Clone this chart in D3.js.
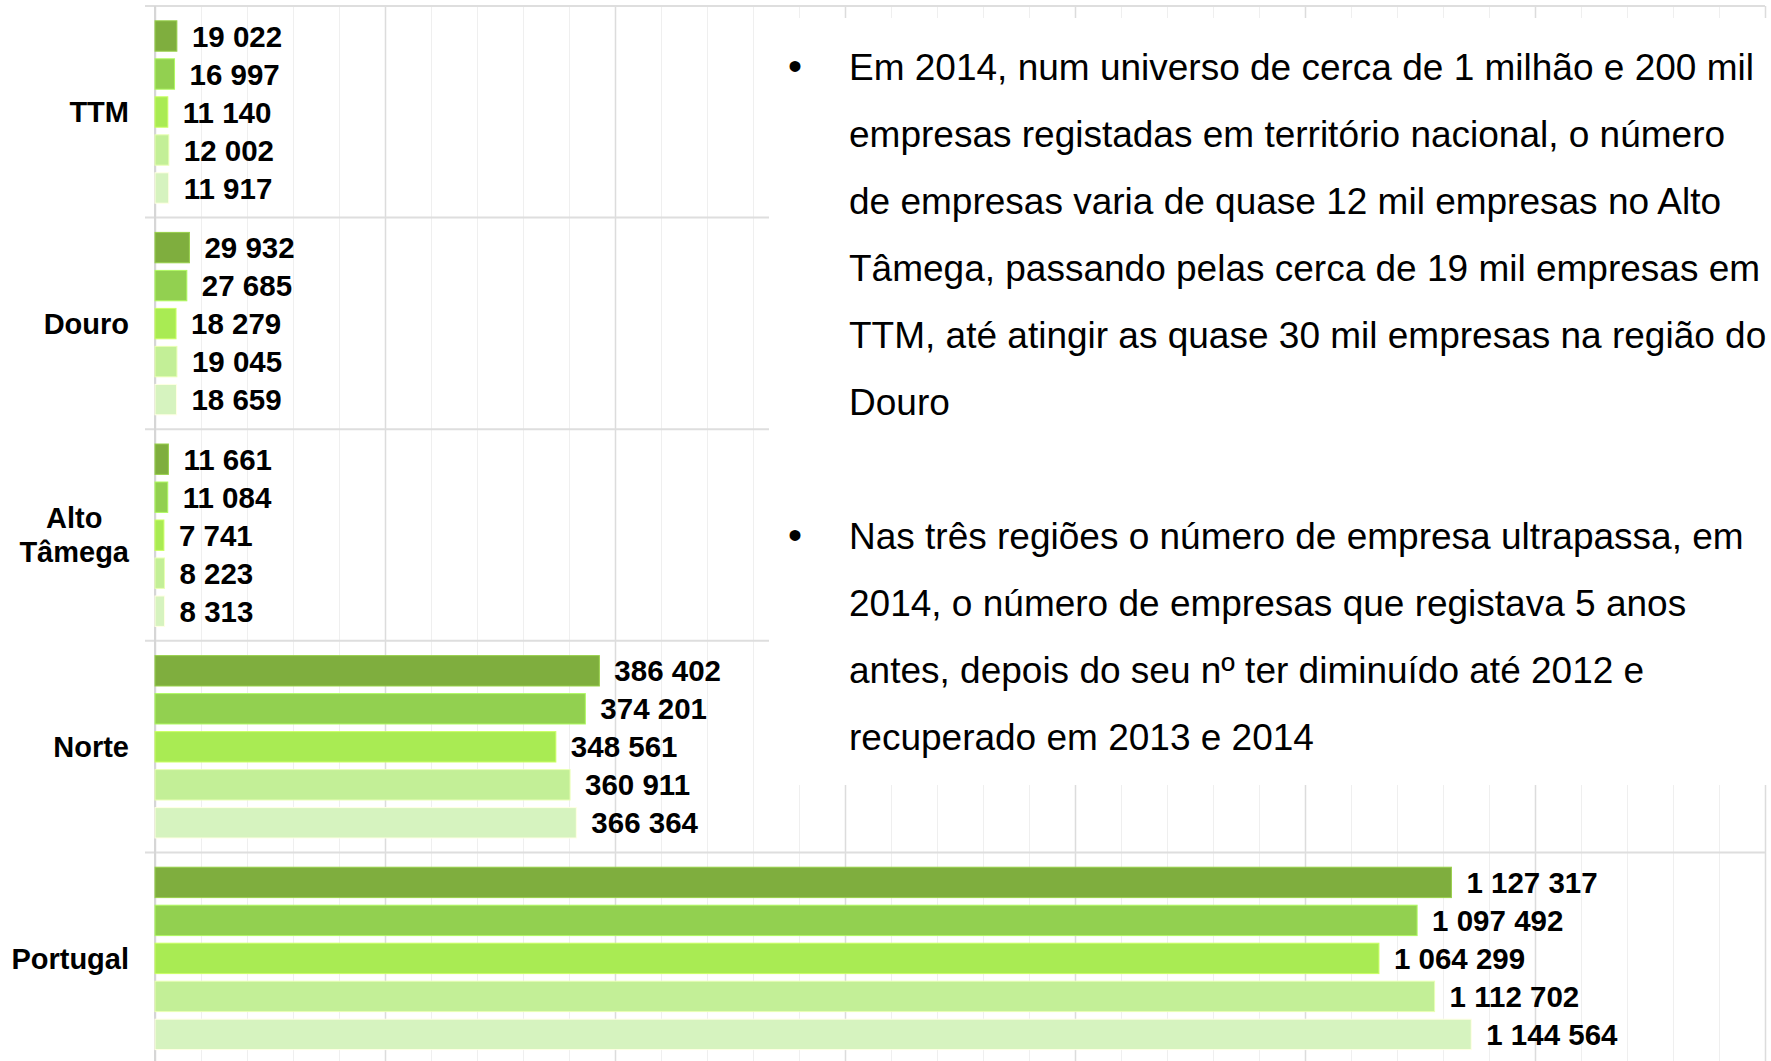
<!DOCTYPE html>
<html>
<head>
<meta charset="utf-8">
<script src="https://cdn.jsdelivr.net/npm/d3@7"></script>
<style>
  body { margin: 0; background: #fff; }
  svg { display: block; font-family: "Liberation Sans", Arial, sans-serif; }
</style>
</head>
<body>
<svg width="1771" height="1061"></svg>
<script>
var regions = ["TTM", "Douro", "Alto Tâmega", "Norte", "Portugal"]
var regionLabels = [["TTM"], ["Douro"], ["Alto", "Tâmega"], ["Norte"], ["Portugal"]]
var years = ["2014", "2013", "2012", "2011", "2010"]

var values2014 = [19022, 29932, 11661, 386402, 1127317]
var values2013 = [16997, 27685, 11084, 374201, 1097492]
var values2012 = [11140, 18279, 7741, 348561, 1064299]
var values2011 = [12002, 19045, 8223, 360911, 1112702]
var values2010 = [11917, 18659, 8313, 366364, 1144564]

var colors = ["#7fae3e", "#92d050", "#a9eb53", "#c3ef97", "#d6f3bf"]

var paragraph1 = [
  "Em 2014, num universo de cerca de 1 milhão e 200 mil",
  "empresas registadas em território nacional, o número",
  "de empresas varia de quase 12 mil empresas no Alto",
  "Tâmega, passando pelas cerca de 19 mil empresas em",
  "TTM, até atingir as quase 30 mil empresas na região do",
  "Douro"
]
var paragraph2 = [
  "Nas três regiões o número de empresa ultrapassa, em",
  "2014, o número de empresas que registava 5 anos",
  "antes, depois do seu nº ter diminuído até 2012 e",
  "recuperado em 2013 e 2014"
]

document.addEventListener("DOMContentLoaded", function () {

  init();

  function init() {
    var series = [values2014, values2013, values2012, values2011, values2010]
    var data = regions.map(function (r, i) {
      return {
        region: r,
        label: regionLabels[i],
        bars: years.map(function (y, j) { return { year: y, value: series[j][i] } })
      }
    })
    viz(data)
  }

  function viz(data) {

    var svg = d3.select("svg")
    var top = 6, bottom = 1064, left = 155, right = 1765

    var xScale = d3.scaleLinear().domain([0, 1400000]).range([left, right])
    var yScale = d3.scaleBand().domain(regions).range([top, bottom])
    var yInner = d3.scaleBand().domain(years).range([11, 201]).paddingInner(0.2).paddingOuter(0.1)
    var fillScale = d3.scaleOrdinal().domain(years).range(colors)

    var fmt = d3.formatLocale({ decimal: ",", thousands: " ", grouping: [3], currency: ["", " €"] }).format(",d")

    // grid
    var minorAxis = d3.axisBottom(xScale)
      .tickValues(d3.range(0, 1400001, 40000))
      .tickSize(-(bottom - top))
      .tickFormat("")
    var minorG = svg.append("g").attr("transform", "translate(0," + bottom + ")").call(minorAxis)
    minorG.select(".domain").remove()
    minorG.selectAll("line").attr("stroke", "#efefef")

    var majorAxis = d3.axisBottom(xScale)
      .tickValues(d3.range(0, 1400001, 200000))
      .tickSize(-(bottom - top))
      .tickFormat("")
    var majorG = svg.append("g").attr("transform", "translate(0," + bottom + ")").call(majorAxis)
    majorG.select(".domain").remove()
    majorG.selectAll("line").attr("stroke", "#dcdcdc").attr("stroke-width", 1.5)

    // category separators
    var edges = regions.map(function (r) { return yScale(r) }).concat([bottom])
    svg.append("g").selectAll("line")
      .data(edges)
      .enter()
      .append("line")
      .attr("x1", left - 10)
      .attr("x2", right)
      .attr("y1", function (d) { return d })
      .attr("y2", function (d) { return d })
      .attr("stroke", "#dedede")
      .attr("stroke-width", 2)

    svg.append("line")
      .attr("x1", left).attr("x2", left)
      .attr("y1", top).attr("y2", bottom)
      .attr("stroke", "#d6d6d6")
      .attr("stroke-width", 2)

    // bars
    var groups = svg.selectAll("g.region")
      .data(data)
      .enter()
      .append("g")
      .attr("class", "region")
      .attr("transform", function (d) { return "translate(0," + yScale(d.region) + ")" })

    groups.each(function (d) {
      var g = d3.select(this)
      g.selectAll("rect")
        .data(d.bars)
        .enter()
        .append("rect")
        .attr("x", xScale(0))
        .attr("y", function (p) { return yInner(p.year) })
        .attr("width", function (p) { return xScale(p.value) - xScale(0) })
        .attr("height", yInner.bandwidth())
        .attr("fill", function (p) { return fillScale(p.year) })
        .attr("stroke", function (p) { return d3.color(fillScale(p.year)).brighter(0.5) })
        .attr("stroke-width", 1)

      g.selectAll("text.value")
        .data(d.bars)
        .enter()
        .append("text")
        .attr("class", "value")
        .attr("x", function (p) { return xScale(p.value) + 15 })
        .attr("y", function (p) { return yInner(p.year) + yInner.bandwidth() / 2 })
        .attr("dy", "0.36em")
        .style("font-size", "29.5px")
        .style("font-weight", "bold")
        .attr("fill", "#000")
        .text(function (p) { return fmt(p.value) })

      var mid = yScale.bandwidth() / 2
      var lab = g.append("text")
        .style("font-size", "29px")
        .style("font-weight", "bold")
        .attr("fill", "#000")
      var n = d.label.length
      lab.selectAll("tspan")
        .data(d.label)
        .enter()
        .append("tspan")
        .attr("y", function (t, i) { return mid + (i - (n - 1) / 2) * 34 })
        .attr("dy", "0.36em")
        .text(function (t) { return t })
      if (n > 1) {
        var w = d3.max(lab.selectAll("tspan").nodes(), function (node) { return node.getComputedTextLength() })
        lab.attr("text-anchor", "middle").selectAll("tspan").attr("x", 129 - w / 2)
      } else {
        lab.attr("text-anchor", "end").selectAll("tspan").attr("x", 129)
      }
    })

    // text box
    svg.append("rect")
      .attr("x", 769).attr("y", 18)
      .attr("width", 1771 - 769).attr("height", 785 - 18)
      .attr("fill", "#fff")

    var lines = paragraph1.map(function (t, i) { return { t: t, k: i } })
      .concat(paragraph2.map(function (t, i) { return { t: t, k: i + 7 } }))

    svg.append("g").selectAll("text")
      .data(lines)
      .enter()
      .append("text")
      .attr("x", 849)
      .attr("y", function (d) { return 80 + d.k * 67 })
      .style("font-size", "37px")
      .attr("fill", "#000")
      .text(function (d) { return d.t })

    svg.append("g").selectAll("text")
      .data([0, 7])
      .enter()
      .append("text")
      .attr("x", 795)
      .attr("y", function (k) { return 80 + k * 67 })
      .attr("text-anchor", "middle")
      .style("font-size", "40px")
      .attr("fill", "#000")
      .text("•")
  }

});
</script>
</body>
</html>
